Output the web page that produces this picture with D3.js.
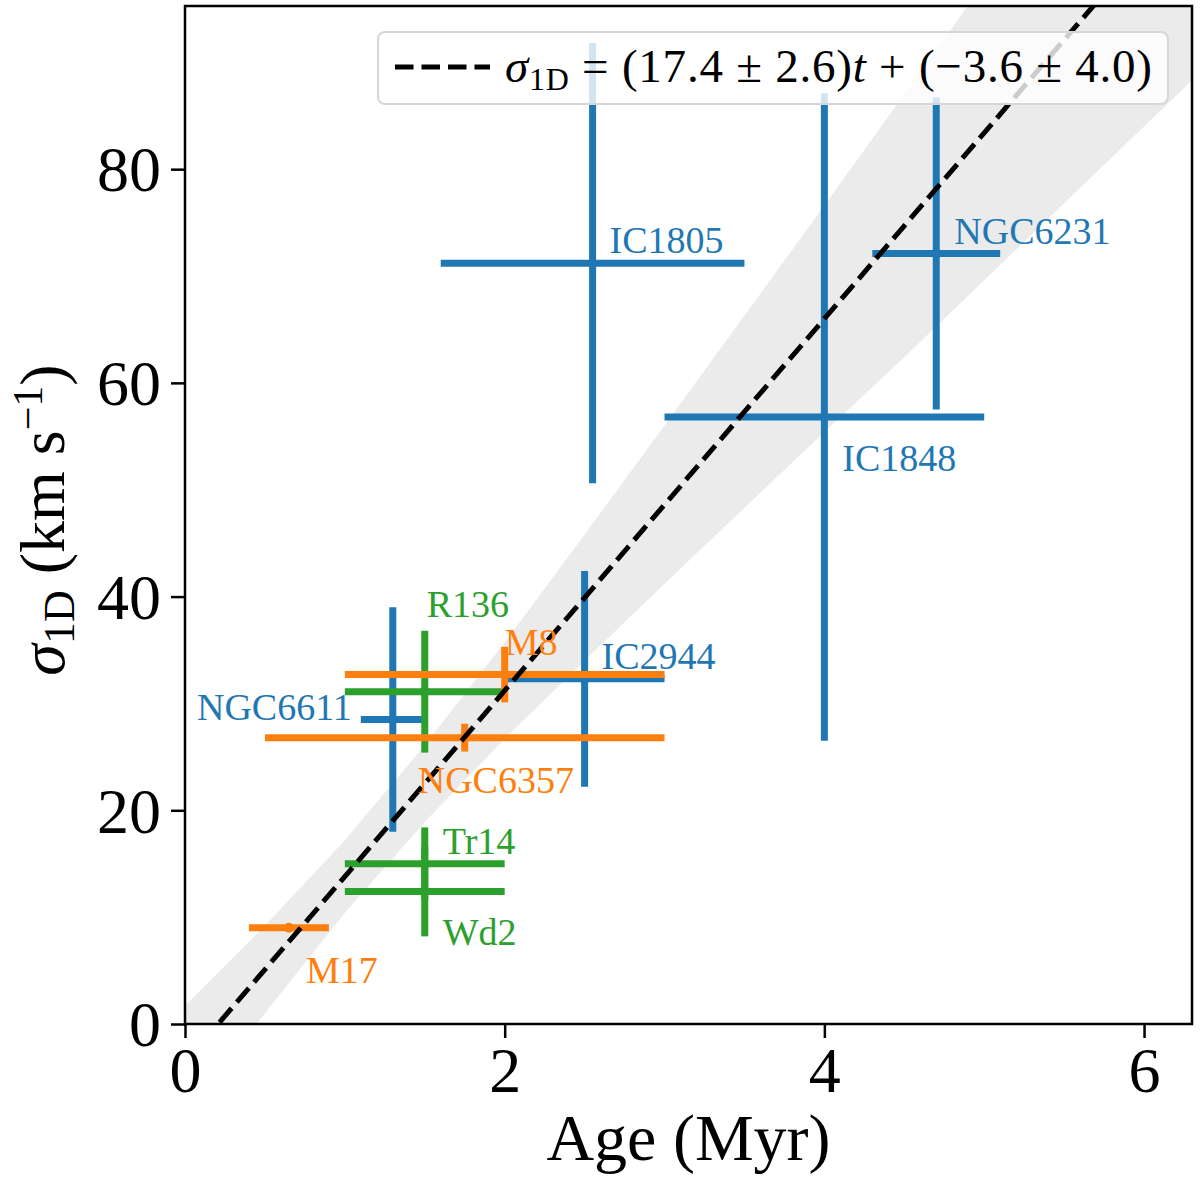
<!DOCTYPE html>
<html>
<head>
<meta charset="utf-8">
<script src="https://cdn.jsdelivr.net/npm/d3@7"></script>
<style>
  body { margin: 0; background: #fff; }
  text { font-family: "Liberation Serif", "DejaVu Serif", serif; }
</style>
</head>
<body>
<svg id="mainsvg" width="1200" height="1200"></svg>
<script>
// cluster data
const clusters = ['IC1805', 'IC1848', 'NGC6231', 'IC2944', 'NGC6611', 'R136', 'Tr14', 'Wd2', 'M8', 'NGC6357', 'M17'];
const group    = [0, 0, 0, 0, 0, 1, 1, 1, 2, 2, 2];
const age      = [2.55, 4.0, 4.70, 2.5, 1.3, 1.5, 1.5, 1.5, 2.0, 1.75, 0.65];
const ageErr   = [0.95, 1.0, 0.40, 0.5, 0.2, 0.5, 0.5, 0.5, 1.0, 1.25, 0.25];
const sigma    = [71.2, 56.8, 72.1, 32.3, 28.5, 31.1, 15.0, 12.4, 32.7, 26.8, 9.0];
const sigmaErr = [20.6, 30.3, 14.6, 10.1, 10.5, 5.7, 3.4, 4.2, 2.6, 1.3, 0.3];

// fit from the legend
const fitSlope = 17.4, slopeErr = 2.6;
const fitIntercept = -3.6, interceptErr = 4.0;

// confidence band edges
const bandT  = [0, 0.5, 1, 1.5, 2, 2.5, 3, 3.5, 4, 4.5, 5, 5.5, 6, 6.5];
const bandLo = [-8.9, 1.0, 10.4, 18.9, 26.7, 34.0, 41.2, 48.3, 55.4, 62.4, 69.6, 76.8, 84.0, 91.2];
const bandHi = [1.7, 9.2, 17.2, 26.1, 35.7, 45.8, 56.0, 66.3, 76.6, 87.0, 97.4, 107.8, 118.3, 128.7];

const xTicks = [0, 2, 4, 6];
const yTicks = [0, 20, 40, 60, 80];

const colors = ['#1f77b4', '#2ca02c', '#ff7f0e'];
// label offsets in px from the point: [dx, dy, anchor]
const labelPos = {
  IC1805: [17, -10, 'start'], IC1848: [18, 54, 'start'], NGC6231: [18, -10, 'start'],
  IC2944: [17, -10, 'start'], NGC6611: [-41, 1, 'end'], R136: [2, -75, 'start'],
  Tr14: [18, -10, 'start'], Wd2: [18, 53, 'start'], M8: [0, -20, 'start'],
  NGC6357: [-47, 55, 'start'], M17: [17, 55, 'start']
};

const svg = d3.select('#mainsvg');
const pLeft = 185, pRight = 1192, pTop = 6, pBottom = 1024;

const x = d3.scaleLinear().domain([0, 6.30]).range([pLeft, pRight]);
const y = d3.scaleLinear().domain([0, 95.27]).range([pBottom, pTop]);

svg.append('clipPath').attr('id', 'clip')
  .append('rect').attr('x', pLeft).attr('y', pTop)
  .attr('width', pRight - pLeft).attr('height', pBottom - pTop);

const plot = svg.append('g').attr('clip-path', 'url(#clip)');

// band
const area = d3.area()
  .x((d, i) => x(bandT[i]))
  .y0((d, i) => y(bandLo[i]))
  .y1((d, i) => y(bandHi[i]));
plot.append('path').datum(bandT).attr('d', area)
  .attr('fill', '#ebebeb');

// error bars, drawn group by group
const idx = d3.range(clusters.length);
[0, 1, 2].forEach(gi => {
  const sel = idx.filter(i => group[i] === gi);
  const g = plot.append('g').attr('stroke', colors[gi]).attr('stroke-width', 7);
  g.selectAll('line.h').data(sel).join('line').attr('class', 'h')
    .attr('x1', i => x(age[i] - ageErr[i])).attr('x2', i => x(age[i] + ageErr[i]))
    .attr('y1', i => y(sigma[i])).attr('y2', i => y(sigma[i]));
  g.selectAll('line.v').data(sel).join('line').attr('class', 'v')
    .attr('x1', i => x(age[i])).attr('x2', i => x(age[i]))
    .attr('y1', i => y(sigma[i] - sigmaErr[i])).attr('y2', i => y(sigma[i] + sigmaErr[i]));
  g.selectAll('circle').data(sel).join('circle')
    .attr('cx', i => x(age[i])).attr('cy', i => y(sigma[i])).attr('r', 5)
    .attr('fill', colors[gi]).attr('stroke', 'none');
});

// fit line
plot.append('line')
  .attr('x1', x(0)).attr('y1', y(fitIntercept))
  .attr('x2', x(6.3)).attr('y2', y(fitSlope * 6.3 + fitIntercept))
  .attr('stroke', '#000').attr('stroke-width', 5)
  .attr('stroke-dasharray', '18.5,8');

// labels
svg.append('g').selectAll('text').data(idx).join('text')
  .attr('x', i => x(age[i]) + labelPos[clusters[i]][0])
  .attr('y', i => y(sigma[i]) + labelPos[clusters[i]][1])
  .attr('text-anchor', i => labelPos[clusters[i]][2])
  .attr('font-size', 38)
  .attr('fill', i => colors[group[i]])
  .text(i => clusters[i]);

// axes
const xAxis = d3.axisBottom(x).tickValues(xTicks).tickSize(14).tickPadding(8).tickFormat(d3.format('d'));
const yAxis = d3.axisLeft(y).tickValues(yTicks).tickSize(14).tickPadding(10).tickFormat(d3.format('d'));

const gx = svg.append('g').attr('transform', `translate(0,${pBottom})`).call(xAxis);
const gy = svg.append('g').attr('transform', `translate(${pLeft},0)`).call(yAxis);
[gx, gy].forEach(g => {
  g.select('.domain').remove();
  g.selectAll('.tick line').attr('stroke', '#000').attr('stroke-width', 2.5);
  g.selectAll('.tick text').attr('font-size', 64).attr('fill', '#000')
    .style('font-family', '"Liberation Serif", serif');
});
gx.selectAll('.tick text').attr('dy', '0.72em');
gy.selectAll('.tick text').attr('dy', '0.34em');

svg.append('rect').attr('x', pLeft).attr('y', pTop)
  .attr('width', pRight - pLeft).attr('height', pBottom - pTop)
  .attr('fill', 'none').attr('stroke', '#000').attr('stroke-width', 2.5);

// axis titles
svg.append('text').attr('x', (pLeft + pRight) / 2).attr('y', 1160)
  .attr('text-anchor', 'middle').attr('font-size', 66).text('Age (Myr)');

const yl = svg.append('text')
  .attr('transform', `translate(64,520) rotate(-90)`)
  .attr('text-anchor', 'middle').attr('font-size', 64);
yl.append('tspan').attr('font-style', 'italic').text('σ');
yl.append('tspan').attr('font-size', 44).attr('dy', 10).text('1D');
yl.append('tspan').attr('dy', -10).text(' (km s');
yl.append('tspan').attr('font-size', 42).attr('dy', -22).text('−1');
yl.append('tspan').attr('dy', 22).text(')');

// legend
const leg = svg.append('g');
leg.append('rect').attr('x', 378).attr('y', 32).attr('width', 790).attr('height', 72)
  .attr('rx', 7).attr('fill', '#fff').attr('fill-opacity', 0.8)
  .attr('stroke', '#d6d6d6').attr('stroke-width', 2);
leg.append('line').attr('x1', 395).attr('x2', 490).attr('y1', 67).attr('y2', 67)
  .attr('stroke', '#000').attr('stroke-width', 5).attr('stroke-dasharray', '18.5,8');
const lt = leg.append('text').attr('x', 505).attr('y', 82).attr('font-size', 47)
  .attr('textLength', 647).attr('lengthAdjust', 'spacing');
lt.append('tspan').attr('font-style', 'italic').text('σ');
lt.append('tspan').attr('font-size', 32).attr('dy', 8).text('1D');
lt.append('tspan').attr('dy', -8)
  .text(` = (${fitSlope} ± ${slopeErr})`);
lt.append('tspan').attr('font-style', 'italic').text('t');
lt.append('tspan').text(` + (−${Math.abs(fitIntercept)} ± ${interceptErr.toFixed(1)})`);
</script>
</body>
</html>
